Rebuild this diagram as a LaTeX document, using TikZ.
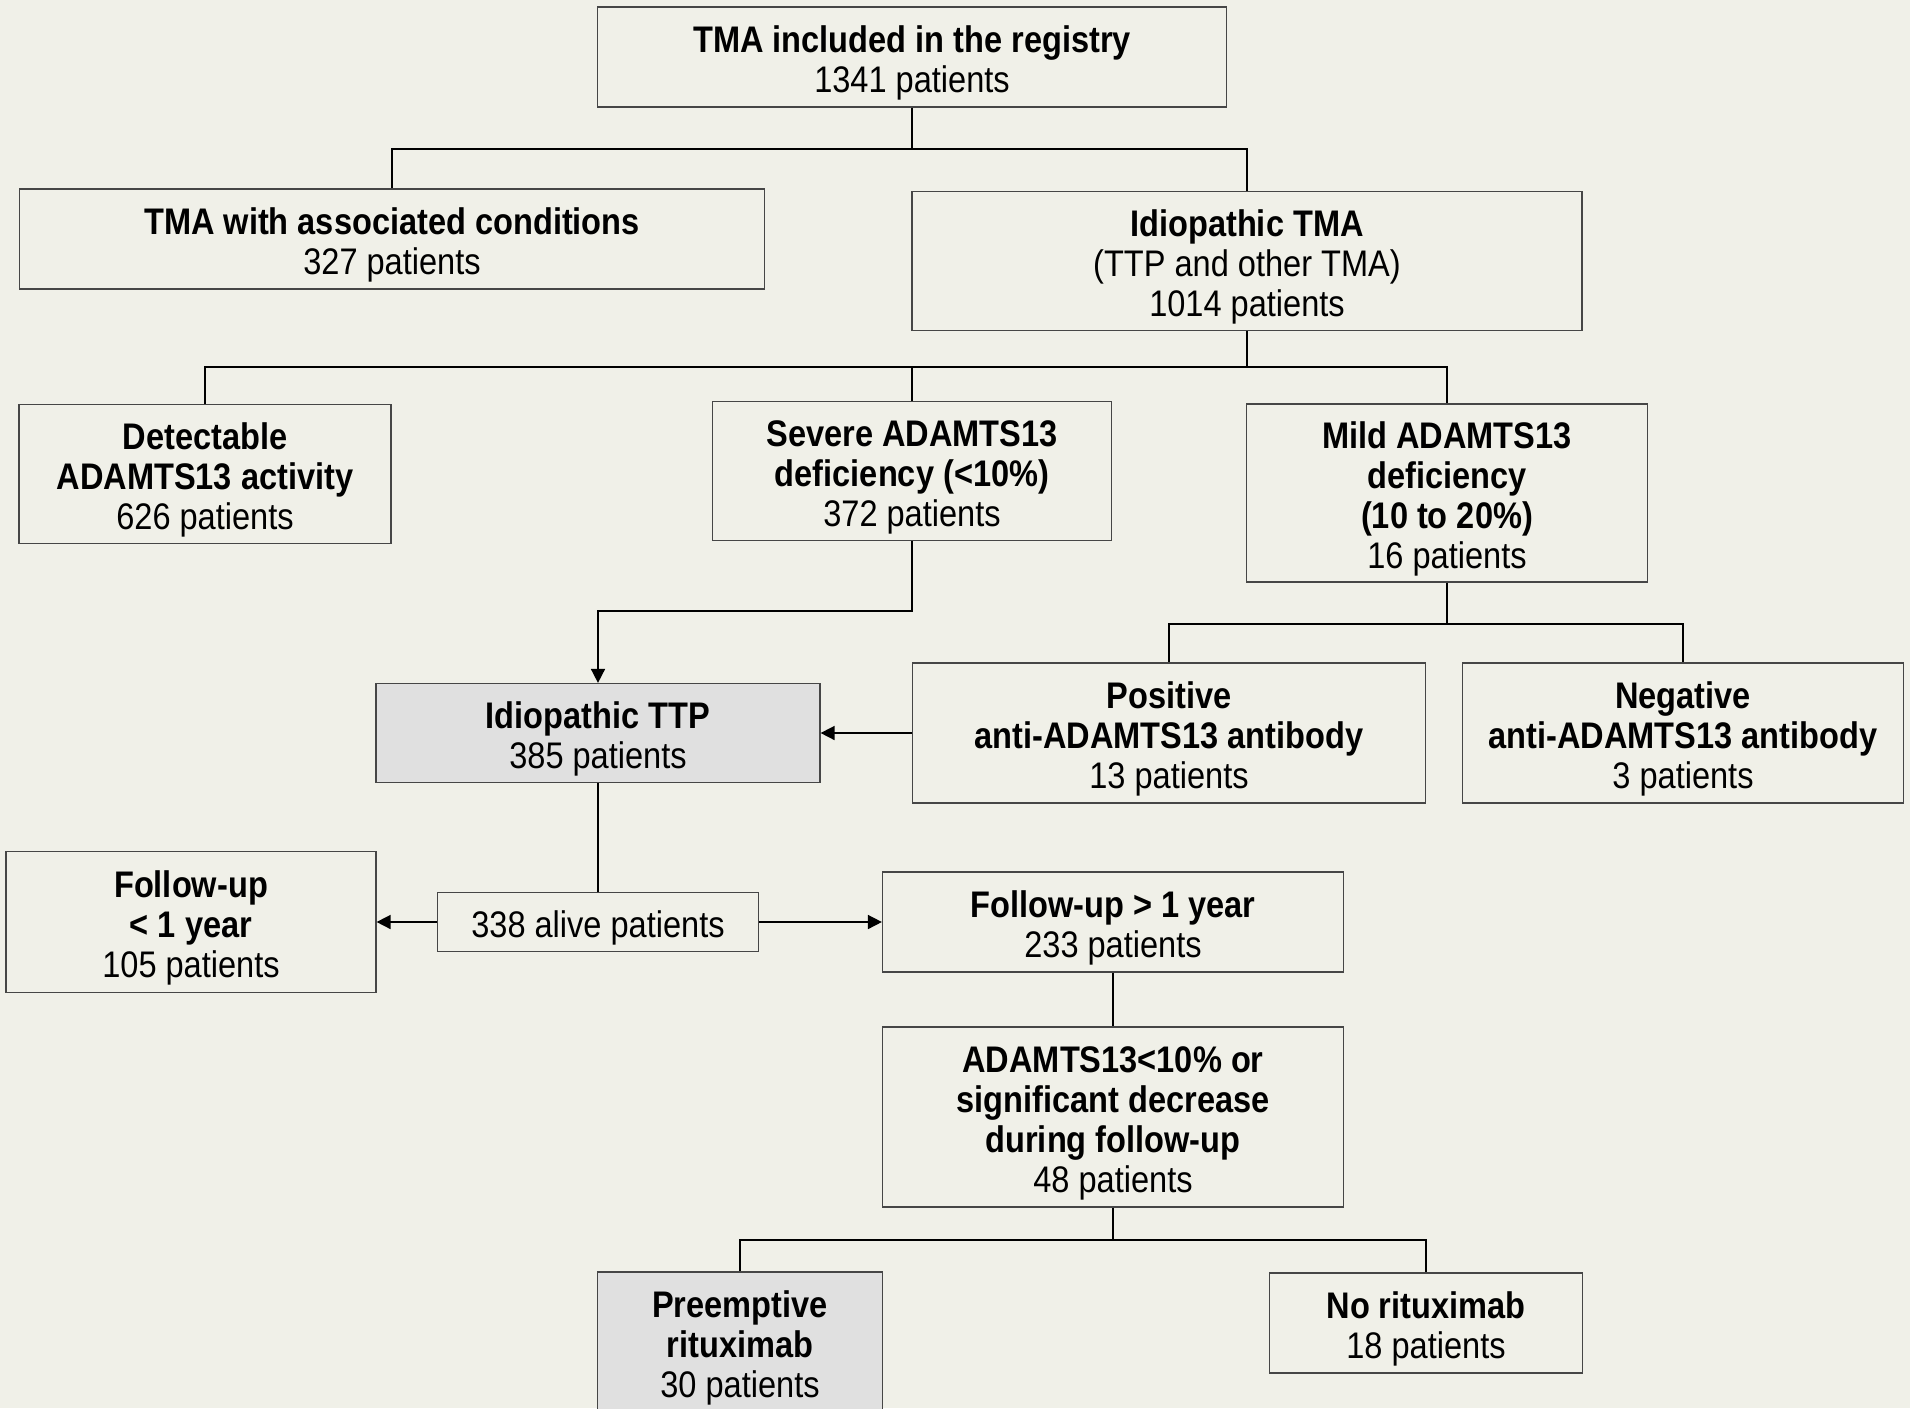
\documentclass[tikz,border=0pt]{standalone}
\usepackage{fontspec}
\setmainfont[FakeStretch=0.88]{Liberation Sans}
\usepackage{tikz}
\usetikzlibrary{arrows.meta}

\definecolor{paper}{RGB}{240,240,232}
\definecolor{ttpgrey}{RGB}{224,224,224}
\definecolor{boxline}{RGB}{70,70,70}

% taller first line, pushes the text a little down in its box
\newcommand{\firstline}[1]{\rule{0pt}{19.5pt}\textbf{#1}}

\tikzset{
  box/.style={draw=boxline, fill=paper, line width=0.6pt, align=center,
    inner sep=0pt, font=\fontsize{18.5}{20}\selectfont},
  greybox/.style={box, fill=ttpgrey},
  boxsize/.style 2 args={minimum width=#1*0.5pt, minimum height=#2*0.5pt},
  link/.style={line width=0.8pt},
  arrow/.style={link, -{Triangle[length=7pt,width=7pt]}}
}

\begin{document}
\begin{tikzpicture}[x=0.5pt, y=-0.5pt]
      \fill[paper] (0,0) rectangle (1910,1408);
      \useasboundingbox (0,0) rectangle (1910,1408);

      % first levels
      \node[box, boxsize={629}{100}] (registry) at (912,57)
        {\firstline{TMA included in the registry}\\1341 patients};
      \node[box, boxsize={745}{100}] (assoc) at (392,239)
        {\firstline{TMA with associated conditions}\\327 patients};
      \node[box, boxsize={670}{139}] (idiotma) at (1247,261)
        {\firstline{Idiopathic TMA}\\(TTP and other TMA)\\1014 patients};
      \node[box, boxsize={372}{139}] (detect) at (205,474)
        {\firstline{Detectable}\\\textbf{ADAMTS13 activity}\\626 patients};
      \node[box, boxsize={399}{139}] (severe) at (912,471)
        {\firstline{Severe ADAMTS13}\\\textbf{deficiency (<10\%)}\\372 patients};
      \node[box, boxsize={401}{178}] (mild) at (1447,493)
        {\firstline{Mild ADAMTS13}\\\textbf{deficiency}\\\textbf{(10 to 20\%)}\\16 patients};

      % TTP level
      \node[greybox, boxsize={444}{99}] (ttp) at (598,733)
        {\firstline{Idiopathic TTP}\\385 patients};
      \node[box, boxsize={513}{140}] (posab) at (1169,733)
        {\firstline{Positive}\\\textbf{anti-ADAMTS13 antibody}\\13 patients};
      \node[box, boxsize={441}{140}] (negab) at (1683,733)
        {\firstline{Negative}\\\textbf{anti-ADAMTS13 antibody}\\3 patients};

      % follow-up
      \node[box, boxsize={370}{141}] (fuless) at (191,922)
        {\firstline{Follow-up}\\\textbf{< 1 year}\\105 patients};
      \node[box, boxsize={321}{59}] (alive) at (598,922)
        {\rule{0pt}{19.5pt}338 alive patients};
      \node[box, boxsize={461}{100}] (fumore) at (1113,922)
        {\firstline{Follow-up > 1 year}\\233 patients};
      \node[box, boxsize={461}{180}] (decrease) at (1113,1117)
        {\firstline{ADAMTS13<10\% or}\\\textbf{significant decrease}\\\textbf{during follow-up}\\48 patients};
      \node[greybox, boxsize={285}{140}] (preempt) at (740,1342)
        {\firstline{Preemptive}\\\textbf{rituximab}\\30 patients};
      \node[box, boxsize={313}{100}] (norit) at (1426,1323)
        {\firstline{No rituximab}\\18 patients};

      % connectors
      \coordinate (splitA) at (912,149);
      \coordinate (splitB) at (1247,367);
      \coordinate (sevbend) at (912,611);
      \coordinate (splitC) at (1447,624);
      \coordinate (splitD) at (1113,1240);

      \draw[link] (registry.south) -- (splitA) -| (assoc.north);
      \draw[link] (splitA) -| (idiotma.north);
      \draw[link] (idiotma.south) -- (splitB) -| (detect.north);
      \draw[link] (splitB) -| (severe.north);
      \draw[link] (splitB) -| (mild.north);
      \draw[arrow] (severe.south) -- (sevbend) -| (ttp.north);
      \draw[link] (mild.south) -- (splitC) -| (posab.north);
      \draw[link] (splitC) -| (negab.north);
      \draw[arrow] (posab.west) -- (ttp.east);
      \draw[link] (ttp.south) -- (alive.north);
      \draw[arrow] (alive.west) -- (fuless.east);
      \draw[arrow] (alive.east) -- (fumore.west);
      \draw[link] (fumore.south) -- (decrease.north);
      \draw[link] (decrease.south) -- (splitD) -| (preempt.north);
      \draw[link] (splitD) -| (norit.north);
\end{tikzpicture}
\end{document}
